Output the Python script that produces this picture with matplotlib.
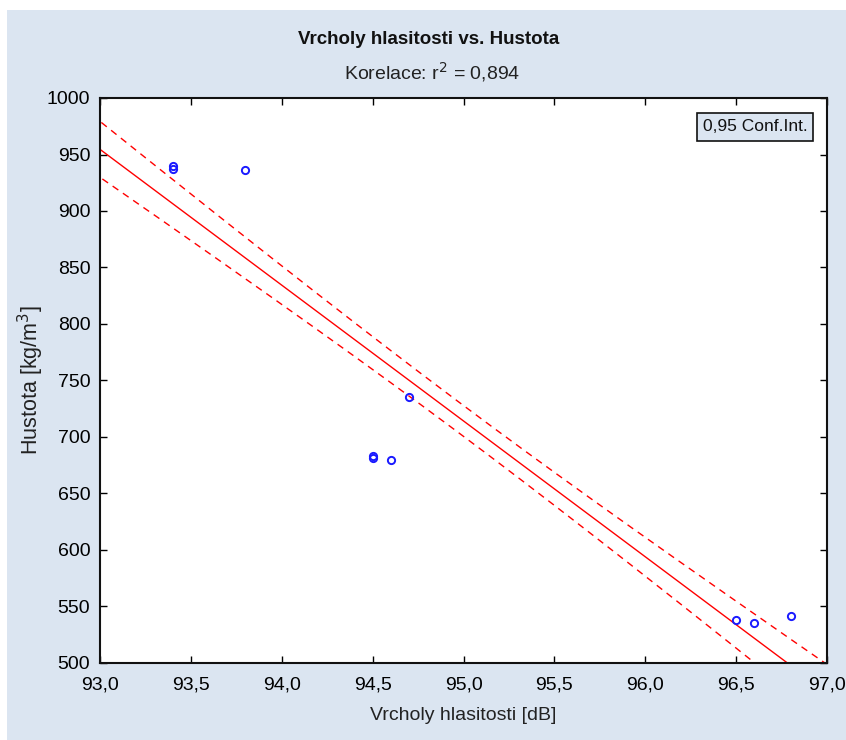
import numpy as np
import matplotlib
matplotlib.use("Agg")
import matplotlib.pyplot as plt
from matplotlib.patches import Rectangle
from matplotlib.ticker import FuncFormatter

plt.rcParams['font.family'] = ['Liberation Sans', 'DejaVu Sans']

# Data (visible points; overlapping repeated measurements estimated per point)
peaks_db = [93.4, 93.4, 93.8, 94.5, 94.5, 94.6, 94.7, 96.5, 96.6, 96.8]
density = [940, 937, 936, 683, 681, 680, 735, 538, 535, 542]
repeats = [7, 7, 7, 5, 5, 5, 5, 9, 9, 6]
x_ticks = [93.0, 93.5, 94.0, 94.5, 95.0, 95.5, 96.0, 96.5, 97.0]
y_ticks = [500, 550, 600, 650, 700, 750, 800, 850, 900, 950, 1000]
t_crit = 2.0  # t(0.975, large df)

x = np.repeat(peaks_db, repeats).astype(float)
y = np.repeat(density, repeats).astype(float)
n = len(x)
slope, intercept = np.polyfit(x, y, 1)
xs = np.linspace(92.9, 97.1, 300)
yhat = intercept + slope * xs
resid = y - (intercept + slope * x)
s = np.sqrt(np.sum(resid ** 2) / (n - 2))
sxx = np.sum((x - x.mean()) ** 2)
half = t_crit * s * np.sqrt(1 / n + (xs - x.mean()) ** 2 / sxx)

W, H = 846, 740
fig = plt.figure(figsize=(W / 100, H / 100), dpi=100, facecolor='white')
bg = '#dbe5f1'
fig.patches.append(Rectangle((7 / W, 0), 1 - 7 / W, 1 - 10 / H, transform=fig.transFigure,
                             facecolor=bg, edgecolor='none', zorder=-10))

ax = fig.add_axes([100 / W, (H - 663) / H, 727 / W, 565 / H])
ax.set_facecolor('white')

red = '#ff0000'
ax.plot(xs, yhat, color=red, lw=1.0)
ax.plot(xs, yhat + half, color=red, lw=1.0, ls=(0, (5, 4)))
ax.plot(xs, yhat - half, color=red, lw=1.0, ls=(0, (5, 4)))
ax.plot(peaks_db, density, 'o', mfc='none', mec='#1a1aff', mew=1.4, ms=5.2)

ax.set_xlim(93.0, 97.0)
ax.set_ylim(500, 1000)
ax.set_xticks(x_ticks)
ax.set_yticks(y_ticks)
ax.xaxis.set_major_formatter(FuncFormatter(lambda v, p: f"{v:.1f}".replace('.', ',')))
ax.yaxis.set_major_formatter(FuncFormatter(lambda v, p: f"{int(v)}"))
ax.tick_params(direction='in', length=5, width=1, colors='black', labelsize=14,
               top=True, right=True)
ax.tick_params(axis='x', pad=10)
ax.tick_params(axis='y', pad=7)
for sp in ax.spines.values():
    sp.set_linewidth(1.5)
    sp.set_color('#111111')

ax.set_xlabel('Vrcholy hlasitosti [dB]', fontsize=14, color='#222222')
ax.xaxis.set_label_coords(0.5, -(707 - 663) / 565)
ax.set_ylabel('Hustota [kg/m$^3$]', fontsize=15.5, color='#222222', va='center')
ax.yaxis.set_label_coords(-(100 - 31) / 727, 0.5)

fig.text(429 / W, 1 - 40 / H, 'Vrcholy hlasitosti vs. Hustota', ha='center', va='center',
         fontsize=13.5, fontweight='bold', color='#111111')
fig.text(432 / W, 1 - 72 / H, 'Korelace: r$^2$ = 0,894', ha='center', va='center',
         fontsize=14, color='#222222')

ax.text(0.973, 0.962, '0,95 Conf.Int.', transform=ax.transAxes, ha='right', va='top',
        fontsize=12.5, color='#111111',
        bbox=dict(boxstyle='square,pad=0.35', facecolor=bg, edgecolor='#111111', lw=1.2))

fig.savefig('out.png', dpi=100, facecolor='white')
